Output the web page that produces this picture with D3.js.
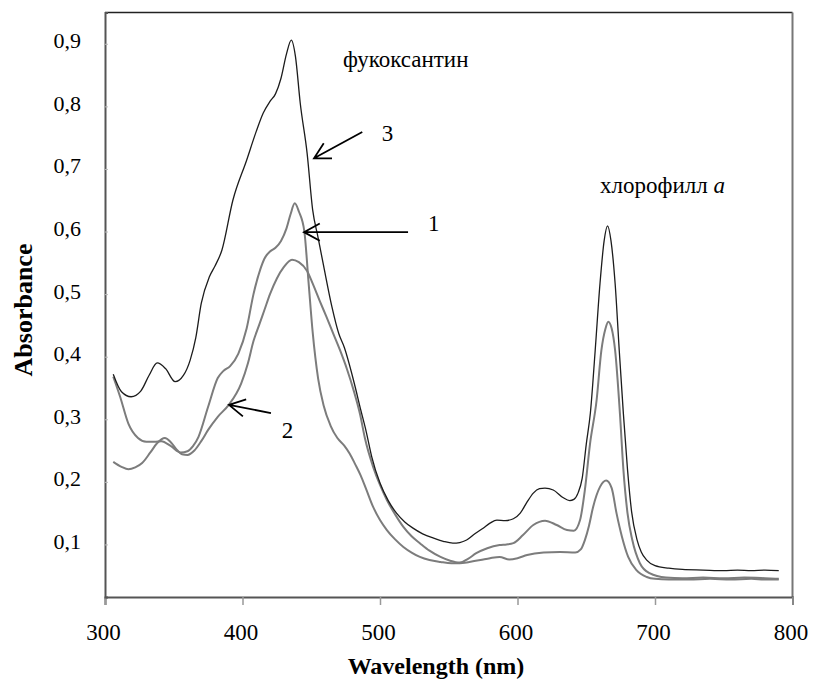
<!DOCTYPE html>
<html>
<head>
<meta charset="utf-8">
<script src="https://cdn.jsdelivr.net/npm/d3@7"></script>
<style>
  body { margin: 0; background: #fff; }
  svg { display: block; font-family: "Liberation Serif", "Times New Roman", serif; }
</style>
</head>
<body>
<div id="chart"></div>
<script>
// absorption spectra, values
var wl1 = [306,311,317,324,330,336,341,348,355,360,364,368,375,382,386,391,397,403,408,413,416,420,424,428,432,435,438,441,445,448,451,455,459,464,469,474,478,482,486,490,495,500,505,511,517,523,529,536,544,552,558,565,573,580,587,594,600,607,619,631,642,646,649,652,655,660,664.5,668.5,672,676,680.5,686.5,694,700,710,725,740,755,770,780,790];
var abs1 = [0.368,0.336,0.293,0.27,0.264,0.264,0.265,0.257,0.247,0.249,0.257,0.272,0.32,0.366,0.377,0.385,0.405,0.445,0.50,0.54,0.557,0.568,0.574,0.585,0.605,0.628,0.645,0.632,0.6,0.52,0.44,0.365,0.322,0.29,0.27,0.258,0.245,0.228,0.21,0.188,0.16,0.139,0.123,0.108,0.096,0.087,0.08,0.075,0.072,0.07,0.07,0.072,0.075,0.078,0.08,0.076,0.078,0.083,0.087,0.088,0.087,0.092,0.107,0.13,0.16,0.192,0.202,0.19,0.15,0.112,0.08,0.059,0.048,0.045,0.044,0.044,0.045,0.044,0.045,0.044,0.044];

var wl2 = [306,312,317,322,327,333,338,343.5,348,352,356,360,365,370,375,382,390,399,404,408,412,416,420,425,430,436,441,447,451,456,461,466,471,476,481,485.5,489,495,500,505,511,517,523,529,536,544,551,558,564,570,578,587,592,597,604,611.5,620,628.5,636,641,645.5,649,652.7,657.5,661,664,666,668.5,671,674.5,677,680,683.5,689,696,708,720,735,750,765,780,790];
var abs2 = [0.232,0.224,0.22,0.223,0.23,0.247,0.262,0.27,0.263,0.252,0.244,0.243,0.25,0.265,0.283,0.304,0.323,0.357,0.39,0.425,0.45,0.475,0.5,0.525,0.543,0.555,0.551,0.537,0.517,0.49,0.464,0.437,0.41,0.38,0.345,0.308,0.27,0.224,0.195,0.171,0.148,0.128,0.113,0.102,0.09,0.08,0.074,0.071,0.077,0.086,0.094,0.099,0.1,0.102,0.115,0.131,0.138,0.131,0.123,0.122,0.139,0.187,0.26,0.33,0.41,0.445,0.456,0.445,0.41,0.309,0.22,0.15,0.107,0.07,0.054,0.047,0.046,0.047,0.046,0.047,0.046,0.045];

var wl3 = [306,312,319,326,332,338,344,351,357,362,366,370,376,380,385,393,403,410,415,420,424,428,432,435.5,438.5,442,447,451,455,459,465,470,474,481,486,490,494,500,506,512,518,524,531,539,546,553,558,563,569,575,580,585,591,597,602,607,611.5,616,620,626,633,638,641,644,647,650,653,656.5,660,663,665.5,668,671,674,677,680,683,687,690,694,700,710,720,735,750,760,770,780,790];
var abs3 = [0.372,0.344,0.336,0.345,0.37,0.39,0.381,0.36,0.37,0.395,0.43,0.485,0.528,0.545,0.57,0.65,0.714,0.76,0.789,0.808,0.82,0.845,0.884,0.906,0.88,0.805,0.725,0.635,0.59,0.545,0.48,0.437,0.415,0.36,0.315,0.28,0.24,0.198,0.17,0.15,0.136,0.126,0.117,0.11,0.105,0.102,0.103,0.107,0.117,0.126,0.134,0.139,0.138,0.141,0.15,0.168,0.182,0.189,0.19,0.187,0.175,0.17,0.172,0.182,0.205,0.26,0.31,0.41,0.517,0.585,0.609,0.585,0.517,0.41,0.309,0.22,0.152,0.107,0.088,0.075,0.066,0.062,0.06,0.059,0.058,0.059,0.058,0.059,0.058];

var xTicks = [300, 400, 500, 600, 700, 800];
var yTicks = [0.1, 0.2, 0.3, 0.4, 0.5, 0.6, 0.7, 0.8, 0.9];

// labels and arrows, anchored in data units
var notes = [
  {text: 'фукоксантин', wl: 473, abs: 0.863},
  {text: 'хлорофилл ', italic: 'a', wl: 660, abs: 0.662},
  {text: '3', wl: 501.2, abs: 0.744},
  {text: '1', wl: 534.9, abs: 0.601},
  {text: '2', wl: 428.5, abs: 0.270}
];
var arrows = [
  {from: [487.1, 0.759], to: [452, 0.717]},
  {from: [520.4, 0.599], to: [444.7, 0.599]},
  {from: [420.7, 0.310], to: [390.2, 0.323]}
];

var width = 813, height = 681;

var svg = d3.select('#chart').append('svg')
  .attr('width', width)
  .attr('height', height);

var x = d3.scaleLinear().domain([300, 800]).range([105, 792.5]);
var y = d3.scaleLinear().domain([0.016, 0.95]).range([597, 12.5]);

// frame
svg.append('line')
  .attr('x1', x(300)).attr('x2', x(800))
  .attr('y1', y(0.95)).attr('y2', y(0.95))
  .attr('stroke', '#222').attr('stroke-width', 1.5);
svg.append('line')
  .attr('x1', x(800)).attr('x2', x(800))
  .attr('y1', y(0.95)).attr('y2', y(0.016))
  .attr('stroke', '#777').attr('stroke-width', 2);

// x axis
var xAxis = svg.append('g')
  .attr('transform', 'translate(0,' + y(0.016) + ')')
  .call(d3.axisBottom(x).tickValues(xTicks).tickSize(8).tickFormat(d3.format('d')));
xAxis.select('.domain').attr('stroke', '#555').attr('stroke-width', 2);
xAxis.selectAll('.tick line').attr('stroke', '#999').attr('stroke-width', 1.5);
xAxis.selectAll('.tick text')
  .attr('y', 43).attr('dy', 0).attr('x', -2)
  .attr('fill', '#000')
  .style('font-family', '"Liberation Serif", "Times New Roman", serif')
  .style('font-size', '23px');

// y axis
var yAxis = svg.append('g')
  .attr('transform', 'translate(' + x(300) + ',0)')
  .call(d3.axisLeft(y).tickValues(yTicks).tickSize(-3).tickPadding(24)
    .tickFormat(function(d){ return d3.format('.1f')(d).replace('.', ','); }));
yAxis.select('.domain').attr('stroke', '#555').attr('stroke-width', 2);
yAxis.selectAll('.tick line').attr('stroke', '#bbb');
yAxis.selectAll('.tick text')
  .attr('dy', 4)
  .attr('fill', '#000')
  .style('font-family', '"Liberation Serif", "Times New Roman", serif')
  .style('font-size', '22px');

// axis titles
svg.append('text')
  .attr('x', 436).attr('y', 674)
  .attr('text-anchor', 'middle')
  .style('font-size', '24px').style('font-weight', 'bold')
  .text('Wavelength (nm)');
svg.append('text')
  .attr('transform', 'translate(32,310) rotate(-90)')
  .attr('text-anchor', 'middle')
  .style('font-size', '26px').style('font-weight', 'bold')
  .text('Absorbance');

// spectra
var line = d3.line()
  .x(function(d){ return x(d[0]); })
  .y(function(d){ return y(d[1]); })
  .curve(d3.curveMonotoneX);

var series = [
  {data: d3.zip(wl1, abs1), color: '#7c7c7c', w: 2},
  {data: d3.zip(wl2, abs2), color: '#7c7c7c', w: 2},
  {data: d3.zip(wl3, abs3), color: '#1c1c1c', w: 1.3}
];
series.forEach(function(s){
  svg.append('path')
    .attr('d', line(s.data))
    .attr('fill', 'none')
    .attr('stroke', s.color)
    .attr('stroke-width', s.w)
    .attr('stroke-linejoin', 'round');
});

// notes
notes.forEach(function(n){
  var t = svg.append('text')
    .attr('x', x(n.wl)).attr('y', y(n.abs))
    .style('font-size', '23px')
    .text(n.text);
  if(n.italic){
    t.append('tspan').style('font-style', 'italic').text(n.italic);
  }
});

// open-headed arrows
arrows.forEach(function(a){
  var x0 = x(a.from[0]), y0 = y(a.from[1]);
  var x1 = x(a.to[0]), y1 = y(a.to[1]);
  var ang = Math.atan2(y0 - y1, x0 - x1);
  var len = 18, spread = 0.5;
  var p = d3.path();
  p.moveTo(x0, y0); p.lineTo(x1, y1);
  p.moveTo(x1 + len * Math.cos(ang - spread), y1 + len * Math.sin(ang - spread));
  p.lineTo(x1, y1);
  p.lineTo(x1 + len * Math.cos(ang + spread), y1 + len * Math.sin(ang + spread));
  svg.append('path')
    .attr('d', p.toString())
    .attr('fill', 'none')
    .attr('stroke', '#000')
    .attr('stroke-width', 1.8);
});
</script>
</body>
</html>
